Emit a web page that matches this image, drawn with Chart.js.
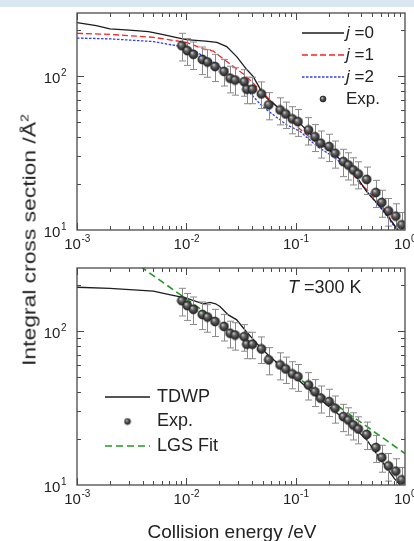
<!DOCTYPE html>
<html lang="en">
<head>
<meta charset="UTF-8">
<title>Integral cross section</title>
<script src="https://cdn.jsdelivr.net/npm/chart.js"></script>
<style>
  body { margin: 0; width: 414px; height: 541px; overflow: hidden; position: relative; background: #fff;
         font-family: "Liberation Sans", Arial, sans-serif; color: #222; }
  #band { position: absolute; left: 0; top: 0; width: 414px; height: 7px; background: #d9e8f0; }
  canvas { position: absolute; left: 0; }
  #topChart { top: 0; }
  #bottomChart { top: 250px; }
  .anchor { position: absolute; width: 0; height: 0; }
  .anchor span { position: absolute; white-space: nowrap; }
  #yTitle span { font-size: 18px; transform: translate(-50%, -50%) rotate(-90deg) scaleX(1.27); }
  #xTitle span { font-size: 19px; transform: translate(-50%, -50%); }
  sup { font-size: 11px; vertical-align: 7px; line-height: 0; }
</style>
</head>
<body>
<div id="band"></div>
<canvas id="topChart" width="414" height="250"></canvas>
<canvas id="bottomChart" width="414" height="291"></canvas>
<div class="anchor" id="yTitle" style="left:30px; top:240px;"><span>Integral cross section /Å<sup>2</sup></span></div>
<div class="anchor" id="xTitle" style="left:232px; top:532px;"><span>Collision energy /eV</span></div>

<script>
// experiment (same points in both panels)
const expE = [0.0091, 0.0102, 0.0116, 0.0140, 0.0156, 0.0183, 0.0221, 0.0251, 0.0279, 0.0338, 0.0357,
              0.0402, 0.0486, 0.0567, 0.0720, 0.0811, 0.0933, 0.105, 0.131, 0.150, 0.169, 0.202,
              0.229, 0.273, 0.303, 0.337, 0.374, 0.446, 0.541, 0.613, 0.705, 0.824, 0.933];
const expSigma = [157, 146, 138, 128, 123, 115, 107, 96.6, 94, 91.8, 82, 82, 76.4, 64.9, 60.1, 56.6,
                  52.6, 50.5, 44.6, 40.3, 36.6, 34.8, 31.5, 27.8, 26.4, 24.5, 23.1, 21.3, 17.5, 15.1,
                  13.3, 12.3, 10.8];
const expErr = [32, 29, 28, 26, 25, 23, 21, 19, 19, 18, 16, 16, 15, 13, 12, 11, 10.5, 10, 9, 8, 7.3, 7,
                6.3, 5.6, 5.3, 4.9, 4.6, 4.3, 3.5, 3, 2.7, 2.5, 2.2];

// top panel, j = 0, 1, 2
const j0E = [0.001, 0.0015, 0.002, 0.003, 0.0045, 0.006, 0.008, 0.01, 0.015, 0.019, 0.0234, 0.029,
             0.0357, 0.041, 0.047, 0.054, 0.0676, 0.0834, 0.11, 0.157, 0.22, 0.315, 0.372, 0.45, 0.63, 0.9];
const j0Sigma = [222, 212, 202, 198, 194, 186, 178, 172, 168, 165, 155, 133, 110, 99, 83, 72, 63, 57,
                 49, 38, 31.6, 25, 21.5, 17.6, 13.5, 9.6];
const j1E = [0.001, 0.002, 0.005, 0.01, 0.0143, 0.0176, 0.0234, 0.027, 0.0344, 0.0547, 0.0834, 0.11,
             0.157, 0.22, 0.315, 0.372, 0.45, 0.63, 0.85];
const j1Sigma = [189, 186, 178, 165, 150, 145, 124, 115, 101, 73, 55, 45, 36.5, 31.6, 25, 20.6, 18.2, 14, 10];
const j2E = [0.001, 0.002, 0.005, 0.01, 0.0153, 0.0218, 0.033, 0.047, 0.0547, 0.0834, 0.11, 0.157,
             0.22, 0.315, 0.45, 0.63, 0.84];
const j2Sigma = [176, 174, 167, 153, 132, 110, 87, 66, 60, 48, 43.6, 34.8, 30, 24.5, 17.7, 13.3, 10];

// bottom panel, T = 300 K
const tdwpE = [0.001, 0.002, 0.005, 0.007, 0.01, 0.0143, 0.0165, 0.0185, 0.0203, 0.0242, 0.0289,
               0.0345, 0.044, 0.058, 0.072, 0.11, 0.157, 0.22, 0.315, 0.45, 0.63, 0.8, 0.95];
const tdwpSigma = [192, 189, 181, 172, 163, 150, 153, 150, 144, 127, 118, 101, 83, 68, 60, 47, 37.4,
                   30.7, 25, 19.5, 13.9, 11, 9.6];
const lgsE = [0.0038, 1];
const lgsSigma = [262, 16];

// axis ticks
const xDecades = [0.001, 0.01, 0.1, 1];
const xExponents = ['-3', '-2', '-1', '0'];
const yDecades = [10, 100];
const yExponents = ['1', '2'];
const xMin = 0.001, xMax = 1, yMin = 10, yMax = 256;

const FONT = '"Liberation Sans", Arial, sans-serif';
const pts = (xs, ys) => xs.map((x, i) => ({ x: x, y: ys[i] }));

function sphere(r) {
  const c = document.createElement('canvas');
  const s = Math.ceil(r * 2) + 2;
  c.width = c.height = s;
  const g = c.getContext('2d');
  const m = s / 2;
  const grad = g.createRadialGradient(m - r * 0.35, m - r * 0.4, r * 0.05, m, m, r);
  grad.addColorStop(0, '#d8d8d8');
  grad.addColorStop(0.35, '#6a6a6a');
  grad.addColorStop(1, '#1c1c1c');
  g.fillStyle = grad;
  g.beginPath(); g.arc(m, m, r, 0, Math.PI * 2); g.fill();
  g.strokeStyle = '#222'; g.lineWidth = 0.7; g.stroke();
  return c;
}
const ball = sphere(4.5);
const smallBall = sphere(3);

function drawPow(ctx, exp, x, y, align) {
  ctx.font = '15px ' + FONT;
  const wb = ctx.measureText('10').width;
  ctx.font = '10px ' + FONT;
  const we = ctx.measureText(exp).width;
  const left = align === 'center' ? x - (wb + we) / 2 : x - wb - we;
  ctx.font = '15px ' + FONT;
  ctx.fillText('10', left, y);
  ctx.font = '10px ' + FONT;
  ctx.fillText(exp, left + wb + 0.5, y - 7);
}

// "j =0" / "T =300 K": first letter italic
function drawLabel(ctx, text, x, y, size) {
  const m = text.match(/^(\w) (.*)$/);
  ctx.textBaseline = 'middle';
  if (m) {
    ctx.font = 'italic ' + size + 'px ' + FONT;
    ctx.fillText(m[1], x, y);
    const w = ctx.measureText(m[1] + ' ').width;
    ctx.font = size + 'px ' + FONT;
    ctx.fillText(m[2], x + w, y);
  } else {
    ctx.font = size + 'px ' + FONT;
    ctx.fillText(text, x, y);
  }
}

const framePlugin = {
  id: 'frame',
  beforeDatasetDraw(chart, args) {
    const ds = chart.data.datasets[args.index];
    if (!ds.err) return;
    const { ctx, chartArea: a, scales: { x, y } } = chart;
    ctx.save();
    ctx.beginPath(); ctx.rect(a.left, a.top, a.right - a.left, a.bottom - a.top); ctx.clip();
    ctx.strokeStyle = '#8a8a8a'; ctx.lineWidth = 1;
    ds.data.forEach((p, i) => {
      const px = Math.round(x.getPixelForValue(p.x)) + 0.5;
      const hi = y.getPixelForValue(p.y + ds.err[i]);
      const lo = y.getPixelForValue(p.y - ds.err[i]);
      ctx.beginPath();
      ctx.moveTo(px, hi); ctx.lineTo(px, lo);
      ctx.moveTo(px - 3.5, hi); ctx.lineTo(px + 3.5, hi);
      ctx.moveTo(px - 3.5, lo); ctx.lineTo(px + 3.5, lo);
      ctx.stroke();
    });
    ctx.restore();
  },
  afterDraw(chart, args, opts) {
    const { ctx, chartArea: a, scales: { x, y } } = chart;
    ctx.save();
    ctx.strokeStyle = '#4a4a4a'; ctx.lineWidth = 1.3;
    ctx.strokeRect(a.left, a.top, a.right - a.left, a.bottom - a.top);

    // inward ticks on all four sides
    ctx.lineWidth = 1;
    ctx.beginPath();
    for (let d = 0; d < xDecades.length - 1; d++) {
      for (let k = 1; k <= 9; k++) {
        const px = Math.round(x.getPixelForValue(xDecades[d] * k)) + 0.5;
        const len = k === 1 ? 7 : 4;
        ctx.moveTo(px, a.bottom); ctx.lineTo(px, a.bottom - len);
        ctx.moveTo(px, a.top); ctx.lineTo(px, a.top + len);
      }
    }
    for (let k = 2; k * 10 <= yMax; k++) {
      const v = k < 10 ? k * 10 : (k % 10 === 0 ? k * 10 : null);
      if (!v) continue;
      const py = Math.round(y.getPixelForValue(v)) + 0.5;
      const len = v === 100 ? 7 : 4;
      ctx.moveTo(a.left, py); ctx.lineTo(a.left + len, py);
      ctx.moveTo(a.right, py); ctx.lineTo(a.right - len, py);
    }
    ctx.stroke();

    // tick labels
    ctx.fillStyle = '#222';
    ctx.textBaseline = 'alphabetic';
    ctx.textAlign = 'left';
    xDecades.forEach((v, i) => drawPow(ctx, xExponents[i], x.getPixelForValue(v), a.bottom + 19, 'center'));
    yDecades.forEach((v, i) => drawPow(ctx, yExponents[i], 66, y.getPixelForValue(v) + 7, 'right'));

    // legend, built from the datasets
    const L = opts.legend;
    chart.data.datasets.forEach((ds, i) => {
      const ly = L.y + i * L.gap;
      if (ds.showLine) {
        ctx.strokeStyle = ds.borderColor; ctx.lineWidth = ds.borderWidth;
        ctx.setLineDash(ds.borderDash || []);
        ctx.beginPath(); ctx.moveTo(L.x1, ly); ctx.lineTo(L.x2, ly); ctx.stroke();
        ctx.setLineDash([]);
      } else {
        ctx.drawImage(L.marker, (L.x1 + L.x2) / 2 - L.marker.width / 2, ly - L.marker.height / 2);
      }
      ctx.fillStyle = '#222';
      drawLabel(ctx, ds.label, L.tx, ly, L.size);
    });
    if (opts.note) drawLabel(ctx, opts.note.text, opts.note.x, opts.note.y, opts.note.size);
    ctx.restore();
  }
};

function expDataset() {
  return { label: 'Exp.', data: pts(expE, expSigma), err: expErr, showLine: false,
           pointStyle: ball, pointRadius: 4.5, order: 0 };
}
function lineDataset(label, xs, ys, color, dash, width, order) {
  return { label: label, data: pts(xs, ys), showLine: true, borderColor: color, borderWidth: width,
           borderDash: dash, pointRadius: 0, tension: 0, order: order };
}
function baseOptions(padding, frameOpts) {
  return {
    responsive: false, animation: false, devicePixelRatio: 1,
    layout: { padding: padding },
    scales: {
      x: { type: 'logarithmic', min: xMin, max: xMax, display: false },
      y: { type: 'logarithmic', min: yMin, max: yMax, display: false }
    },
    plugins: { legend: { display: false }, tooltip: { enabled: false }, frame: frameOpts }
  };
}

new Chart(document.getElementById('topChart'), {
  type: 'scatter',
  data: {
    datasets: [
      lineDataset('j =0', j0E, j0Sigma, '#1c1c1c', [], 1.3, 1),
      lineDataset('j =1', j1E, j1Sigma, '#ff2020', [6, 3], 1.3, 2),
      lineDataset('j =2', j2E, j2Sigma, '#2a3cff', [2.5, 1.5], 1.3, 3),
      expDataset()
    ]
  },
  options: baseOptions({ left: 77, right: 9, top: 13, bottom: 20 },
    { legend: { x1: 302, x2: 344, tx: 346, y: 33, gap: 22, size: 17, marker: smallBall } }),
  plugins: [framePlugin]
});

new Chart(document.getElementById('bottomChart'), {
  type: 'scatter',
  data: {
    datasets: [
      lineDataset('TDWP', tdwpE, tdwpSigma, '#1c1c1c', [], 1.3, 1),
      expDataset(),
      lineDataset('LGS Fit', lgsE, lgsSigma, '#1f9a1f', [7, 4], 1.6, 2)
    ]
  },
  options: baseOptions({ left: 77, right: 9, top: 18, bottom: 56 },
    { legend: { x1: 105, x2: 150, tx: 157, y: 147, gap: 24.5, size: 18, marker: smallBall },
      note: { text: 'T =300 K', x: 288, y: 38, size: 18 } }),
  plugins: [framePlugin]
});
</script>
</body>
</html>
